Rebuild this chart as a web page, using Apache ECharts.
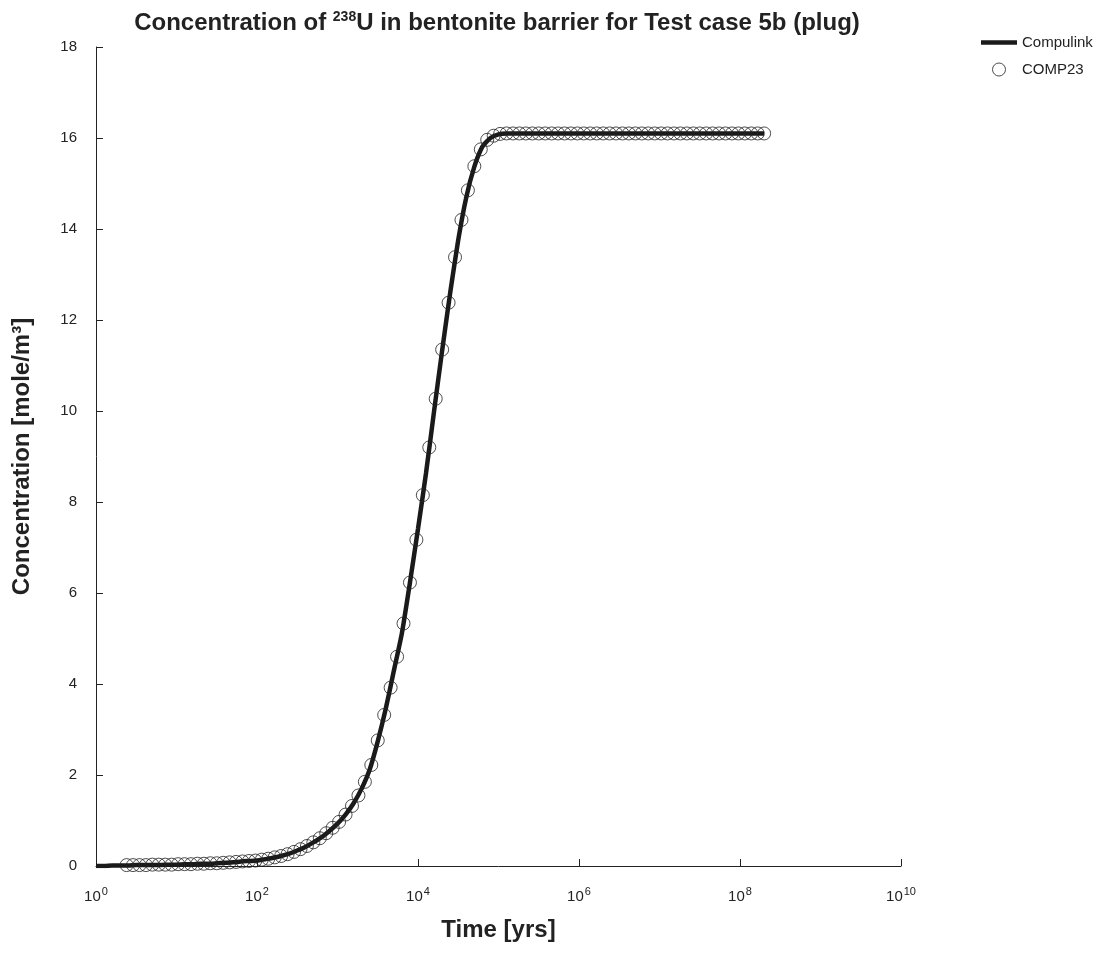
<!DOCTYPE html>
<html>
<head>
<meta charset="utf-8">
<script src="https://cdn.jsdelivr.net/npm/echarts@6/dist/echarts.min.js"></script>
<style>
html,body{margin:0;padding:0;background:#fff;}
#chart{width:1118px;height:958px;}
</style>
</head>
<body>
<div id="chart"></div>
<script>
// COMP23 sample times (log10 of years) and concentrations [mole/m3]
const comp23Exp = [
0.38,0.46,0.54,0.62,0.70,0.78,0.86,0.94,1.02,1.10,
1.18,1.26,1.34,1.42,1.50,1.58,1.66,1.74,1.82,1.90,
1.98,2.06,2.14,2.22,2.30,2.38,2.46,2.54,2.62,2.70,
2.78,2.86,2.94,3.02,3.10,3.18,3.26,3.34,3.42,3.50,
3.58,3.66,3.74,3.82,3.90,3.98,4.06,4.14,4.22,4.30,
4.38,4.46,4.54,4.62,4.70,4.78,4.86,4.94,5.02,5.10,
5.18,5.26,5.34,5.42,5.50,5.58,5.66,5.74,5.82,5.90,
5.98,6.06,6.14,6.22,6.30,6.38,6.46,6.54,6.62,6.70,
6.78,6.86,6.94,7.02,7.10,7.18,7.26,7.34,7.42,7.50,
7.58,7.66,7.74,7.82,7.90,7.98,8.06,8.14,8.22,8.30];
const comp23Conc = [
0.02,0.02,0.02,0.02,0.03,0.03,0.03,0.03,0.04,0.04,
0.04,0.05,0.05,0.06,0.06,0.07,0.08,0.09,0.10,0.11,
0.12,0.14,0.16,0.19,0.22,0.26,0.31,0.37,0.44,0.52,
0.61,0.72,0.84,0.97,1.13,1.32,1.55,1.85,2.22,2.76,
3.32,3.92,4.60,5.33,6.23,7.17,8.15,9.20,10.27,11.35,
12.38,13.38,14.20,14.85,15.38,15.75,15.96,16.05,16.09,16.10,
16.10,16.10,16.10,16.10,16.10,16.10,16.10,16.10,16.10,16.10,
16.10,16.10,16.10,16.10,16.10,16.10,16.10,16.10,16.10,16.10,
16.10,16.10,16.10,16.10,16.10,16.10,16.10,16.10,16.10,16.10,
16.10,16.10,16.10,16.10,16.10,16.10,16.10,16.10,16.10,16.10];

// Compulink curve (log10 of years) and concentrations
const compulinkExp = [
0.0,0.1,0.2,0.3,0.4,0.5,0.6,0.7,0.8,0.9,
1.0,1.1,1.2,1.3,1.4,1.5,1.6,1.7,1.8,1.9,
2.0,2.1,2.2,2.3,2.4,2.5,2.6,2.7,2.8,2.9,
3.0,3.1,3.2,3.3,3.4,3.5,3.6,3.7,3.8,3.9,
4.0,4.1,4.2,4.3,4.4,4.5,4.6,4.7,4.8,4.9,
5.0,5.1,5.2,5.5,6.0,7.0,8.0,8.3];
const compulinkConc = [
0.00,0.00,0.01,0.01,0.01,0.02,0.02,0.02,0.02,0.03,
0.03,0.04,0.04,0.05,0.05,0.06,0.07,0.08,0.10,0.11,
0.12,0.15,0.18,0.22,0.27,0.34,0.42,0.52,0.63,0.77,
0.93,1.13,1.38,1.70,2.12,2.74,3.46,4.29,5.12,6.23,
7.41,8.64,10.00,11.33,12.60,13.76,14.70,15.37,15.81,16.00,
16.08,16.10,16.10,16.10,16.10,16.10,16.10,16.10];

const yTicks = [0,2,4,6,8,10,12,14,16,18];
const xTickExp = [0,2,4,6,8,10];

const FONT = 'Liberation Sans, Arial, sans-serif';
const TXT = '#222';

const chart = echarts.init(document.getElementById('chart'), null, {renderer:'canvas'});
chart.setOption({
  animation: false,
  backgroundColor: '#fff',
  textStyle: {fontFamily: FONT},
  title: {
    text: '{b|Concentration of }{s|238}{b|U in bentonite barrier for Test case 5b (plug)}',
    left: 492, top: 3, textAlign: 'center',
    textStyle: {
      rich: {
        b: {fontFamily: FONT, fontWeight: 'bold', fontSize: 24, color: TXT, lineHeight: 30},
        s: {fontFamily: FONT, fontWeight: 'bold', fontSize: 14, color: TXT, padding: [0,0,11,0], lineHeight: 30}
      }
    }
  },
  legend: {
    orient: 'vertical', left: 976, top: 30,
    itemWidth: 36, itemHeight: 13, itemGap: 12,
    symbolKeepAspect: true,
    textStyle: {fontFamily: FONT, fontSize: 15, color: TXT},
    data: [
      {name: 'Compulink', icon: 'path://M0,0 L36,0 L36,4.5 L0,4.5 Z', itemStyle: {color: '#1a1a1a', borderWidth: 0}},
      {name: 'COMP23', icon: 'circle', itemStyle: {color: 'rgba(0,0,0,0)', borderColor: '#222', borderWidth: 1}}
    ]
  },
  grid: {left: 96, right: 217, top: 47, bottom: 92, containLabel: false},
  xAxis: {
    type: 'log', logBase: 10, min: 1, max: 1e10, interval: 2,
    name: 'Time [yrs]', nameLocation: 'middle', nameGap: 52,
    nameTextStyle: {fontFamily: FONT, fontWeight: 'bold', fontSize: 24, color: TXT},
    axisLine: {lineStyle: {color: '#222', width: 1}},
    axisTick: {inside: true, length: 7, lineStyle: {color: '#222'}},
    splitLine: {show: false},
    minorTick: {show: false},
    axisLabel: {
      margin: 22, color: TXT,
      formatter: function (v) {
        const e = Math.round(Math.log10(v));
        return xTickExp.indexOf(e) >= 0 ? '{n|10}{e|' + e + '}' : '';
      },
      rich: {
        n: {fontFamily: FONT, fontSize: 15, color: TXT, lineHeight: 18},
        e: {fontFamily: FONT, fontSize: 11, color: TXT, padding: [0,0,11,1], lineHeight: 18}
      }
    }
  },
  yAxis: {
    type: 'value', min: 0, max: 18, interval: 2,
    name: 'Concentration [mole/m³]', nameLocation: 'middle', nameGap: 62, nameRotate: 90,
    nameTextStyle: {fontFamily: FONT, fontWeight: 'bold', fontSize: 24, color: TXT},
    axisLine: {show: true, lineStyle: {color: '#222', width: 1}},
    axisTick: {show: true, inside: true, length: 7, lineStyle: {color: '#222'}},
    splitLine: {show: false},
    axisLabel: {
      margin: 19, color: TXT, fontFamily: FONT, fontSize: 15,
      formatter: function (v) { return yTicks.indexOf(v) >= 0 ? String(v) : ''; }
    }
  },
  series: [
    {
      name: 'Compulink', type: 'line',
      data: compulinkExp.map((e, i) => [Math.pow(10, e), compulinkConc[i]]),
      symbol: 'none', smooth: 0.2,
      lineStyle: {color: '#1a1a1a', width: 4.5},
      itemStyle: {color: '#1a1a1a'},
      z: 2
    },
    {
      name: 'COMP23', type: 'scatter',
      data: comp23Exp.map((e, i) => [Math.pow(10, e), comp23Conc[i]]),
      symbol: 'circle', symbolSize: 13,
      itemStyle: {color: 'rgba(0,0,0,0)', borderColor: '#222', borderWidth: 1},
      z: 3
    }
  ]
});
</script>
</body>
</html>
